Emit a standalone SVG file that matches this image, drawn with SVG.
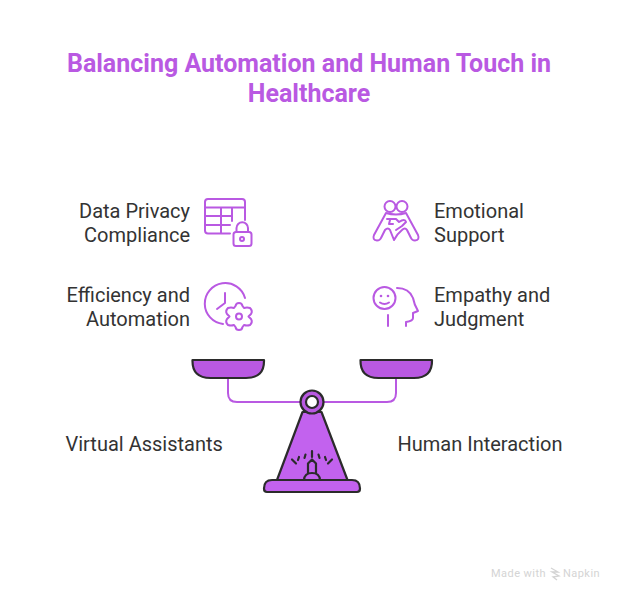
<svg xmlns="http://www.w3.org/2000/svg" width="624" height="600" viewBox="0 0 624 600">
<style>
text{font-family:Roboto,"Liberation Sans",sans-serif;}
.t{font-size:25px;font-weight:700;fill:#b959e2;text-anchor:middle}
.l{font-size:20px;fill:#333333}
.e{text-anchor:end}
.i{fill:none;stroke:#b959e2;stroke-width:2;stroke-linecap:round;stroke-linejoin:round}
.k{stroke:#2b2b2b;stroke-width:2.2;stroke-linejoin:round;stroke-linecap:round}
.p{fill:#b959e2}
.v{fill:#c262ee}
.w{font-size:11px;fill:#d4d4d4;letter-spacing:.45px}
</style>
<rect width="624" height="600" fill="#ffffff"/>
<g id="title"><text class="t" x="309" y="72">Balancing Automation and Human Touch in</text><text class="t" x="309" y="102">Healthcare</text></g>
<g id="connectors"><path class="i" d="M228 378V393Q228 402 237 402H300M396 378V393Q396 402 387 402H324"/></g>
<g id="pan-left"><path class="p k" d="M192.500 360H264Q264.500 378 246 378H210.500Q192 378 192.500 360Z"/></g>
<g id="pan-right"><path class="p k" d="M360.500 360H432Q432.500 378 414 378H378.500Q360 378 360.500 360Z"/></g>
<g id="fulcrum">
<path class="v k" d="M277 480L302.500 412H321.500L347.500 480Z"/>
<path class="v k" d="M264 488.500Q264 480 272 480H352Q360 480 360 488.500Q360 492 357 492H267Q264 492 264 488.500Z"/>
<path class="v k" d="M304 480Q304.500 473 312 473Q319.500 473 320 480ZM308 473V463.500L312 459.500L316 463.500V473"/>
<path class="k" fill="none" d="M312 451V457M305.500 454.500L304.500 458M318.500 454.500L319.500 458M299 457L298 460M325 457L326 460M292 459.500L296 463.500M332 459.500L328 463.500"/>
<circle class="p k" cx="312" cy="402" r="11.500"/><circle cx="312" cy="402" r="6" fill="#fff" stroke="#2b2b2b" stroke-width="2.200"/>
</g>
<g id="node-data-privacy">
<text class="l e" x="190" y="218">Data Privacy</text><text class="l e" x="190" y="242">Compliance</text>
<path class="i" d="M230 233.500H208Q205 233.500 205 230.500V202Q205 199 208 199H242Q245 199 245 202V220M205 207.500H245M205 216H232M205 225H230M221 207.500V233.500M232 207.500V221"/>
<rect class="i" x="233.500" y="232" width="18" height="14" rx="2.500"/><path class="i" d="M236.500 232V228A5.500 5.500 0 0 1 248 228V232"/><circle class="i" cx="242" cy="239" r="2"/>
</g>
<g id="node-efficiency">
<text class="l e" x="190" y="302">Efficiency and</text><text class="l e" x="190" y="326">Automation</text>
<path class="i" d="M223 324A20.500 20.500 0 1 1 245 298M225 293V303L217 309"/>
<path class="i" d="M239 303Q242 303 242.500 306L244 308Q247 307 250 308Q253 311 251 314L248.500 316.500L251 319Q253 322 250 325Q247 326 244 325L242.500 327Q242 330 239 330Q236 330 235.500 327L234 325Q231 326 228 325Q225 322 227 319L229.500 316.500L227 314Q225 311 228 308Q231 307 234 308L235.500 306Q236 303 239 303Z"/><circle class="i" cx="239" cy="316.500" r="3"/>
</g>
<g id="node-emotional">
<text class="l" x="434" y="218">Emotional</text><text class="l" x="434" y="242">Support</text>
<circle class="i" cx="390" cy="206.500" r="5.500"/><circle class="i" cx="402" cy="206.500" r="5.500"/>
<path class="i" d="M386 213L374 235Q372 240 377 240.500Q380 240.500 381 238L385 230Q388 227 390 230L394 240M406 213L418 235Q420 240 415 240.500Q412 240.500 411 238L407 230Q405 227 402 230Q397 234 394 240M386 213Q396 216 406 213M387 219H396L399 222Q405 218 406 222L402 226L396 230M390 220L389 224L393 224"/>
</g>
<g id="node-empathy">
<text class="l" x="434" y="302">Empathy and</text><text class="l" x="434" y="326">Judgment</text>
<circle class="i" cx="384.500" cy="298" r="11"/><circle cx="381" cy="296" r="1.300" fill="#b959e2"/><circle cx="388" cy="296" r="1.300" fill="#b959e2"/>
<path class="i" d="M380 302.500Q384.500 305.500 389 302.500M388 315V326M397 288Q409 288 413 298Q414 304 418 311L413 313V318Q413 321 406 322V326"/>
</g>
<g id="node-virtual"><text class="l" x="65.500" y="451">Virtual Assistants</text></g>
<g id="node-human"><text class="l" x="397.500" y="451">Human Interaction</text></g>
<g id="watermark"><text class="w" x="491" y="577">Made with</text>
<path d="M551 568L558 572L552 572L559 576L553 577L557 580" fill="none" stroke="#d4d4d4" stroke-width="1.300"/>
<text class="w" x="563" y="577">Napkin</text></g>
</svg>
